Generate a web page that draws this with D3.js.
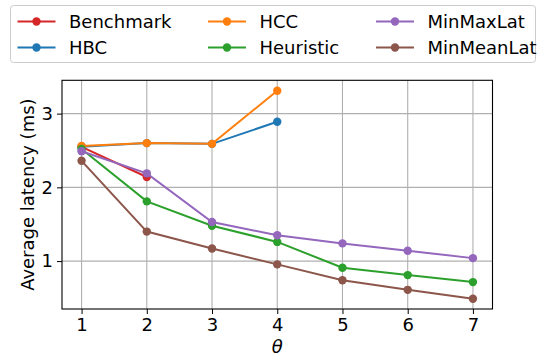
<!DOCTYPE html>
<html><head><meta charset="utf-8">
<script src="https://cdn.jsdelivr.net/npm/d3@7"></script>
<style>body{margin:0;background:#fff}svg{display:block}text{font-family:"DejaVu Sans",sans-serif}</style>
</head><body><svg id="c" width="548" height="358"></svg>
<script>
const thetas = [1,2,3,4,5,6,7];
const seriesNames = ["Benchmark","HBC","HCC","Heuristic","MinMaxLat","MinMeanLat"];
const benchmark = [2.55, 2.14];
const hbc = [2.55, 2.60, 2.59, 2.89];
const hcc = [2.56, 2.60, 2.59, 3.31];
const heuristic = [2.52, 1.81, 1.48, 1.26, 0.91, 0.81, 0.715];
const minMaxLat = [2.49, 2.19, 1.53, 1.35, 1.24, 1.14, 1.04];
const minMeanLat = [2.36, 1.40, 1.17, 0.955, 0.74, 0.61, 0.49];
const colors = ["#d62728","#1f77b4","#ff7f0e","#2ca02c","#9467bd","#8c564b"];
const yTicks = [1,2,3];
const allSeries = [benchmark,hbc,hcc,heuristic,minMaxLat,minMeanLat];

const svg = d3.select("#c");
const L=62, R=492.5, T=80.3, B=309;
const x = d3.scaleLinear().domain([0.7,7.3]).range([L,R]);
const y = d3.scaleLinear().domain([0.35,3.452]).range([B,T]);
const FS = 18;

// grid
const g = svg.append("g");
g.selectAll(".gx").data(thetas).enter().append("line")
 .attr("x1",d=>x(d)).attr("x2",d=>x(d)).attr("y1",T).attr("y2",B)
 .attr("stroke","#b0b0b0").attr("stroke-width",1.1);
g.selectAll(".gy").data(yTicks).enter().append("line")
 .attr("x1",L).attr("x2",R).attr("y1",d=>y(d)).attr("y2",d=>y(d))
 .attr("stroke","#b0b0b0").attr("stroke-width",1.1);

// axes
const xa = svg.append("g").attr("transform",`translate(0,${B})`)
 .call(d3.axisBottom(x).tickValues(thetas).tickSize(5).tickPadding(4).tickFormat(d3.format("d")));
const ya = svg.append("g").attr("transform",`translate(${L},0)`)
 .call(d3.axisLeft(y).tickValues(yTicks).tickSize(5).tickPadding(4).tickFormat(d3.format("d")));
[xa,ya].forEach(a=>{a.select(".domain").remove();
 a.selectAll("text").attr("font-size",FS).attr("fill","#000").attr("font-family","DejaVu Sans");
 a.selectAll("line").attr("stroke","#000").attr("stroke-width",1);});

// series
const line = d3.line().x((d,i)=>x(thetas[i])).y(d=>y(d));
allSeries.forEach((s,k)=>{
  const sg = svg.append("g");
  sg.append("path").datum(s).attr("d",line).attr("fill","none")
    .attr("stroke",colors[k]).attr("stroke-width",2);
  sg.selectAll("circle").data(s).enter().append("circle")
    .attr("cx",(d,i)=>x(thetas[i])).attr("cy",d=>y(d)).attr("r",4.2).attr("fill",colors[k]);
});

// frame
svg.append("rect").attr("x",L).attr("y",T).attr("width",R-L).attr("height",B-T)
 .attr("fill","none").attr("stroke","#000").attr("stroke-width",1.1);

// labels
svg.append("text").attr("x",(L+R)/2).attr("y",353).attr("text-anchor","middle")
 .attr("font-size",FS).attr("font-style","italic").text("θ");
svg.append("text").attr("transform",`translate(34,${(T+B)/2}) rotate(-90)`)
 .attr("text-anchor","middle").attr("font-size",FS).text("Average latency (ms)");

// legend
const lg = svg.append("g");
lg.append("rect").attr("x",10.5).attr("y",5.5).attr("width",525).attr("height",57).attr("rx",3)
 .attr("fill","#fff").attr("fill-opacity",0.8).attr("stroke","#cccccc").attr("stroke-width",1);
const colX = [17.5,208,376];
const rowY = [21.5,47.5];
seriesNames.forEach((n,k)=>{
  const cx = colX[Math.floor(k/2)], cy = rowY[k%2];
  lg.append("line").attr("x1",cx).attr("x2",cx+38).attr("y1",cy).attr("y2",cy)
    .attr("stroke",colors[k]).attr("stroke-width",2);
  lg.append("circle").attr("cx",cx+19).attr("cy",cy).attr("r",4.2).attr("fill",colors[k]);
  lg.append("text").attr("x",cx+51.5).attr("y",cy).attr("dy","0.36em").attr("font-size",FS).text(n);
});
</script></body></html>
